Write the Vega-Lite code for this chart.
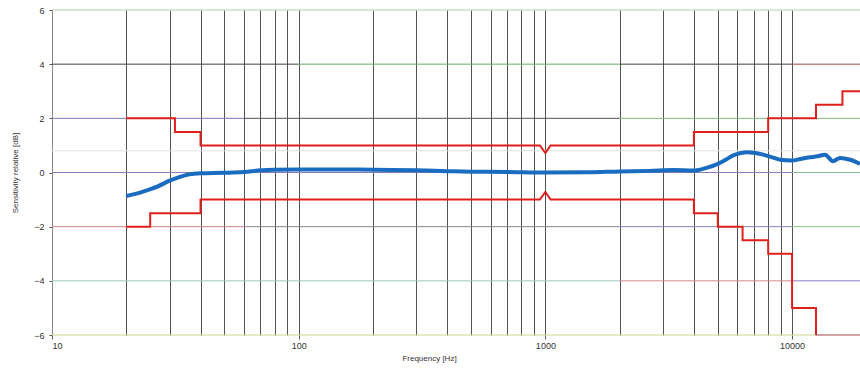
{
  "$schema": "https://vega.github.io/schema/vega-lite/v6.json",
  "width": 808,
  "height": 325,
  "autosize": "none",
  "padding": {"left": 52, "top": 10, "right": 0, "bottom": 34},
  "background": "white",
  "config": {
    "view": {"stroke": null},
    "axis": {
      "labelFont": "Liberation Sans",
      "titleFont": "Liberation Sans",
      "labelColor": "#333",
      "titleColor": "#333",
      "labelFontSize": 9,
      "titleFontSize": 8,
      "titleFontWeight": "normal"
    }
  },
  "datasets": {
    "grid": [
      {"seg": "band", "db": 0.8, "f": 10, "f2": 18850},
      {"seg": "6a", "db": 6, "f": 10, "f2": 18850},
      {"seg": "4a", "db": 4, "f": 10, "f2": 100},
      {"seg": "4b", "db": 4, "f": 100, "f2": 2000},
      {"seg": "4c", "db": 4, "f": 2000, "f2": 10000},
      {"seg": "4d", "db": 4, "f": 10000, "f2": 18850},
      {"seg": "2a", "db": 2, "f": 10, "f2": 60},
      {"seg": "2b", "db": 2, "f": 60, "f2": 2000},
      {"seg": "2c", "db": 2, "f": 2000, "f2": 18850},
      {"seg": "0a", "db": 0, "f": 10, "f2": 10000},
      {"seg": "0b", "db": 0, "f": 10000, "f2": 18850},
      {"seg": "m2a", "db": -2, "f": 10, "f2": 60},
      {"seg": "m2b", "db": -2, "f": 60, "f2": 2000},
      {"seg": "m2c", "db": -2, "f": 2000, "f2": 10000},
      {"seg": "m2d", "db": -2, "f": 10000, "f2": 18850},
      {"seg": "m4a", "db": -4, "f": 10, "f2": 2000},
      {"seg": "m4b", "db": -4, "f": 2000, "f2": 10000},
      {"seg": "m4c", "db": -4, "f": 10000, "f2": 18850},
      {"seg": "m6a", "db": -6, "f": 10, "f2": 12500},
      {"seg": "m6b", "db": -6, "f": 12500, "f2": 18850}
    ],
    "limits": [
      {"s": "upper", "i": 1, "f": 20, "db": 2},
      {"s": "upper", "i": 2, "f": 31.5, "db": 2},
      {"s": "upper", "i": 3, "f": 31.5, "db": 1.5},
      {"s": "upper", "i": 4, "f": 40, "db": 1.5},
      {"s": "upper", "i": 5, "f": 40, "db": 1},
      {"s": "upper", "i": 6, "f": 950, "db": 1},
      {"s": "upper", "i": 7, "f": 1000, "db": 0.72},
      {"s": "upper", "i": 8, "f": 1050, "db": 1},
      {"s": "upper", "i": 9, "f": 4000, "db": 1},
      {"s": "upper", "i": 10, "f": 4000, "db": 1.5},
      {"s": "upper", "i": 11, "f": 8000, "db": 1.5},
      {"s": "upper", "i": 12, "f": 8000, "db": 2},
      {"s": "upper", "i": 13, "f": 12500, "db": 2},
      {"s": "upper", "i": 14, "f": 12500, "db": 2.5},
      {"s": "upper", "i": 15, "f": 16000, "db": 2.5},
      {"s": "upper", "i": 16, "f": 16000, "db": 3},
      {"s": "upper", "i": 17, "f": 18850, "db": 3},
      {"s": "lower", "i": 1, "f": 20, "db": -2},
      {"s": "lower", "i": 2, "f": 25, "db": -2},
      {"s": "lower", "i": 3, "f": 25, "db": -1.5},
      {"s": "lower", "i": 4, "f": 40, "db": -1.5},
      {"s": "lower", "i": 5, "f": 40, "db": -1},
      {"s": "lower", "i": 6, "f": 950, "db": -1},
      {"s": "lower", "i": 7, "f": 1000, "db": -0.72},
      {"s": "lower", "i": 8, "f": 1050, "db": -1},
      {"s": "lower", "i": 9, "f": 4000, "db": -1},
      {"s": "lower", "i": 10, "f": 4000, "db": -1.5},
      {"s": "lower", "i": 11, "f": 5000, "db": -1.5},
      {"s": "lower", "i": 12, "f": 5000, "db": -2},
      {"s": "lower", "i": 13, "f": 6300, "db": -2},
      {"s": "lower", "i": 14, "f": 6300, "db": -2.5},
      {"s": "lower", "i": 15, "f": 8000, "db": -2.5},
      {"s": "lower", "i": 16, "f": 8000, "db": -3},
      {"s": "lower", "i": 17, "f": 10000, "db": -3},
      {"s": "lower", "i": 18, "f": 10000, "db": -5},
      {"s": "lower", "i": 19, "f": 12500, "db": -5},
      {"s": "lower", "i": 20, "f": 12500, "db": -6}
    ],
    "response": [
      {"f": 20, "db": -0.87},
      {"f": 22, "db": -0.78},
      {"f": 24.2, "db": -0.66},
      {"f": 27, "db": -0.5},
      {"f": 30, "db": -0.3},
      {"f": 33, "db": -0.16},
      {"f": 36, "db": -0.07},
      {"f": 40, "db": -0.03},
      {"f": 50, "db": -0.01},
      {"f": 60, "db": 0.02},
      {"f": 70, "db": 0.08},
      {"f": 80, "db": 0.1},
      {"f": 100, "db": 0.11},
      {"f": 150, "db": 0.11},
      {"f": 200, "db": 0.1},
      {"f": 300, "db": 0.08},
      {"f": 400, "db": 0.05},
      {"f": 500, "db": 0.03},
      {"f": 700, "db": 0.02},
      {"f": 1000, "db": 0.0},
      {"f": 1500, "db": 0.01},
      {"f": 2000, "db": 0.04},
      {"f": 2650, "db": 0.06},
      {"f": 3300, "db": 0.09},
      {"f": 4000, "db": 0.07},
      {"f": 4500, "db": 0.17},
      {"f": 5000, "db": 0.32},
      {"f": 5400, "db": 0.48},
      {"f": 5770, "db": 0.63},
      {"f": 6200, "db": 0.72},
      {"f": 6570, "db": 0.75},
      {"f": 7000, "db": 0.73},
      {"f": 7640, "db": 0.66},
      {"f": 8300, "db": 0.56},
      {"f": 8950, "db": 0.47},
      {"f": 10000, "db": 0.44},
      {"f": 10800, "db": 0.5},
      {"f": 11800, "db": 0.56},
      {"f": 12700, "db": 0.6},
      {"f": 13600, "db": 0.66},
      {"f": 14650, "db": 0.42},
      {"f": 15650, "db": 0.54},
      {"f": 17200, "db": 0.47},
      {"f": 18850, "db": 0.32}
    ]
  },
  "encoding": {
    "x": {
      "field": "f",
      "type": "quantitative",
      "scale": {"type": "log", "domain": [10, 18850], "nice": false},
      "axis": {
        "values": [10, 20, 30, 40, 50, 60, 70, 80, 90, 100, 200, 300, 400, 500, 600, 700, 800, 900, 1000, 2000, 3000, 4000, 5000, 6000, 7000, 8000, 9000, 10000],
        "grid": true,
        "gridColor": "#333333",
        "gridWidth": 1,
        "gridOpacity": 0.85,
        "domain": false,
        "tickSize": 4,
        "tickColor": "#555",
        "tickOpacity": {"condition": {"test": "datum.value == 10 || datum.value == 100 || datum.value == 1000 || datum.value == 10000", "value": 1}, "value": 0},
        "labelExpr": "(datum.value == 10 || datum.value == 100 || datum.value == 1000 || datum.value == 10000) ? format(datum.value, 'd') : ''",
        "labelOverlap": false,
        "labelPadding": 2,
        "title": "Frequency [Hz]",
        "titleX": 377,
        "titlePadding": 4
      }
    },
    "y": {
      "field": "db",
      "type": "quantitative",
      "scale": {"domain": [-6, 6], "nice": false, "zero": false},
      "axis": {
        "values": [-6, -4, -2, 0, 2, 4, 6],
        "grid": false,
        "domain": true,
        "domainColor": "#888",
        "tickSize": 3,
        "tickColor": "#555",
        "labelPadding": 5,
        "title": "Sensitivity relative [dB]",
        "titlePadding": 14
      }
    }
  },
  "layer": [
    {
      "data": {"name": "grid"},
      "mark": {"type": "rule", "strokeWidth": 1},
      "encoding": {
        "x2": {"field": "f2"},
        "color": {
          "field": "seg",
          "type": "nominal",
          "legend": null,
          "scale": {
            "domain": ["band", "6a", "4a", "4b", "4c", "4d", "2a", "2b", "2c", "0a", "0b", "m2a", "m2b", "m2c", "m2d", "m4a", "m4b", "m4c", "m6a", "m6b"],
            "range": ["#e2e2e2", "#b0cfa8", "#3c463c", "#6aa86a", "#404840", "#a04848", "#7a78c0", "#555555", "#7ab87a", "#8a7ab8", "#8ac08a", "#d08080", "#888888", "#8a80c0", "#8ac08a", "#9cc8c0", "#d08a8a", "#8080c0", "#c8d890", "#a04848"]
          }
        }
      }
    },
    {
      "data": {"name": "limits"},
      "mark": {"type": "line", "color": "#e0201c", "strokeWidth": 2, "clip": true},
      "encoding": {
        "detail": {"field": "s"},
        "order": {"field": "i", "type": "quantitative"}
      }
    },
    {
      "data": {"name": "response"},
      "mark": {"type": "line", "color": "#1a6cc0", "strokeWidth": 4, "interpolate": "monotone", "clip": true},
      "encoding": {}
    }
  ]
}
